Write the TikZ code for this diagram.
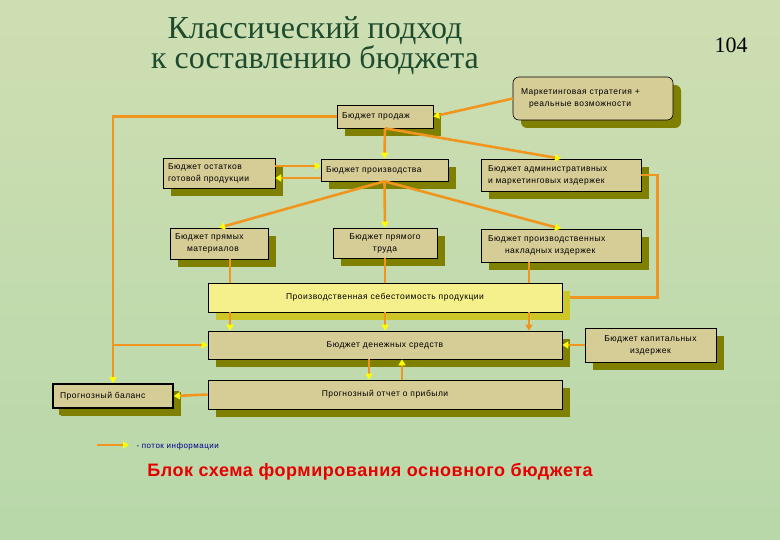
\documentclass[tikz,border=0pt]{standalone}
\usepackage{fontspec}
\setmainfont{Liberation Serif}
\newfontfamily\boxfont[LetterSpace=6]{Liberation Sans}
\newfontfamily\capfont[LetterSpace=3]{Liberation Sans}
\usetikzlibrary{arrows.meta, shadows}

\definecolor{bgtop}{RGB}{206,222,178}
\definecolor{bgmid}{RGB}{194,226,208}
\definecolor{bgbot}{RGB}{184,216,170}
\definecolor{boxtan}{RGB}{214,204,150}
\definecolor{shadowolive}{RGB}{128,128,0}
\definecolor{costyellow}{RGB}{245,240,140}
\definecolor{costshadow}{RGB}{204,198,40}
\definecolor{flowline}{RGB}{240,150,30}
\definecolor{headyellow}{RGB}{255,255,0}
\definecolor{titlegreen}{RGB}{30,75,45}
\definecolor{legblue}{RGB}{0,0,140}
\definecolor{capred}{RGB}{230,0,0}

\begin{document}
\begin{tikzpicture}[x=1pt, y=-1pt]
    % Styles
    \tikzstyle{budget} = [rectangle, draw=black, line width=0.6pt, fill=boxtan, inner xsep=5pt, inner ysep=2pt, font=\boxfont\fontsize{8.5}{12}\selectfont, general shadow={shadow xshift=8pt, shadow yshift=-8pt, fill=shadowolive}]
    \tikzstyle{flow} = [draw=flowline, line width=2.6pt, -{Triangle[length=6pt, width=7pt, color=headyellow]}]
    \tikzstyle{link} = [draw=flowline, line width=2.6pt]

    % Background
    \useasboundingbox (0,0) rectangle (780,540);
    \shade[top color=bgtop, middle color=bgmid, bottom color=bgbot] (0,0) rectangle (780,540);

    % Titles
    \node[font=\fontsize{32}{28}\selectfont, text=titlegreen, align=center] (title) at (315,46) {Классический подход\\к составлению бюджета};
    \node[font=\fontsize{22}{24}\selectfont] (page) at (731,45) {104};

    % Nodes
    \node[budget, rounded corners=6pt, minimum width=160pt, minimum height=43pt, inner xsep=8pt, text width=144pt, align=left] (mkt) at (593,98.5) {Маркетинговая стратегия +\\\hspace*{8pt}реальные возможности};
    \node[budget, minimum width=96pt, minimum height=23pt, text width=86pt, align=left] (sales) at (385,116.5) {Бюджет продаж};
    \node[budget, minimum width=112pt, minimum height=30pt, text width=102pt, align=left] (stock) at (219,173) {Бюджет остатков\\готовой продукции};
    \node[budget, minimum width=127pt, minimum height=22pt, text width=117pt, align=left] (prod) at (384.5,170) {Бюджет производства};
    \node[budget, minimum width=160pt, minimum height=32pt, inner xsep=7pt, text width=146pt, align=left] (admin) at (561,175) {Бюджет административных\\и маркетинговых издержек};
    \node[budget, minimum width=98pt, minimum height=31pt, text width=88pt, align=left] (mat) at (219,243.5) {Бюджет прямых\\\hspace*{12pt}материалов};
    \node[budget, minimum width=104pt, minimum height=30pt, align=center] (labor) at (385,243) {Бюджет прямого\\труда};
    \node[budget, minimum width=160pt, minimum height=33pt, inner xsep=7pt, text width=146pt, align=left] (ovh) at (561,245.5) {Бюджет производственных\\\hspace*{17pt}накладных издержек};
    \node[budget, fill=costyellow, general shadow={shadow xshift=8pt, shadow yshift=-8pt, fill=costshadow}, minimum width=354pt, minimum height=29pt] (cost) at (385,297.5) {Производственная себестоимость продукции};
    \node[budget, minimum width=354pt, minimum height=28pt] (cash) at (385,345) {Бюджет денежных средств};
    \node[budget, minimum width=131pt, minimum height=34pt, align=center] (capex) at (650.5,345) {Бюджет капитальных\\издержек};
    \node[budget, line width=1.6pt, general shadow={shadow xshift=6pt, shadow yshift=-7pt, fill=shadowolive}, minimum width=120pt, minimum height=24pt, text width=106pt, align=left] (bal) at (113,396) {Прогнозный баланс};
    \node[budget, minimum width=354pt, minimum height=29pt] (pnl) at (385,394.5) {Прогнозный отчет о прибыли};

    % Arrows
    \draw[flow] (mkt.west) -- (sales.east);
    \draw[flow] (sales.west) -| (bal.north);
    \coordinate (split) at (113,345);
    \draw[flow] (split) -- (cash.west);
    \draw[flow] (sales.south) -- (prod.north);
    \draw[flow] (sales.south) -- (admin.north);
    \draw[flow] (stock.east |- 0,166) -- (prod.west |- 0,166);
    \draw[flow] (prod.west |- 0,178) -- (stock.east |- 0,178);
    \draw[flow] (prod.south) -- (mat.north);
    \draw[flow] (prod.south) -- (labor.north);
    \draw[flow] (prod.south) -- (ovh.north);
    \foreach \x/\src/\tip in {230/mat/headyellow, 385/labor/headyellow, 529/ovh/flowline} {
        \draw[link] (\src.south -| \x,0) -- (cost.north -| \x,0);
        \draw[flow, -{Triangle[length=6pt, width=7pt, color=\tip]}] (cost.south -| \x,0) -- (cash.north -| \x,0);
    }
    \draw[link] (admin.east) -- ++(16,0) |- ([xshift=8pt]cost.east);
    \draw[flow] (capex.west) -- (cash.east);
    \draw[flow] (cash.south -| 369,0) -- (pnl.north -| 369,0);
    \draw[flow] (pnl.north -| 402,0) -- (cash.south -| 402,0);
    \draw[flow] (pnl.west) -- (bal.east);

    % Legend and caption
    \coordinate (legA) at (97,445);
    \coordinate (legB) at (129,445);
    \draw[flow] (legA) -- (legB);
    \node[anchor=west, text=legblue, font=\boxfont\fontsize{8}{9}\selectfont] (legtext) at (133,446) {- поток информации};
    \node[text=capred, font=\capfont\bfseries\fontsize{18}{20}\selectfont] (caption) at (370,472) {Блок схема формирования основного бюджета};
\end{tikzpicture}
\end{document}
